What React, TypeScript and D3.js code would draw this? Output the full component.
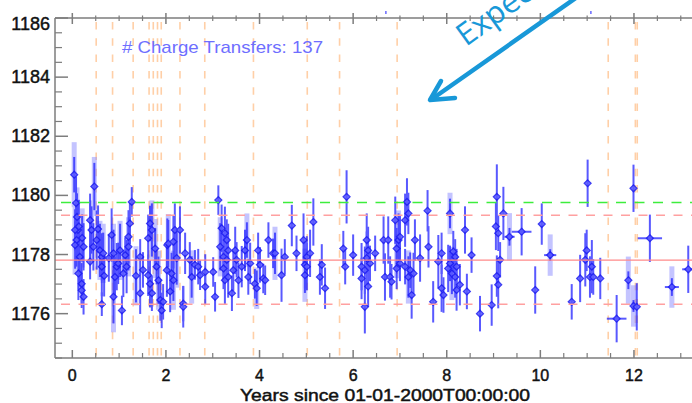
import React from "react";
import * as d3 from "d3";

const W = 692;
const H = 403;

// Axis ranges and ticks
const yearDomain = [-0.37, 13.24];
const valueDomain = [1174.5, 1186];
const yTickValues = [1176, 1178, 1180, 1182, 1184, 1186];
const xTickValues = [0, 2, 4, 6, 8, 10, 12];

// Epochs of charge transfers (years since 2000-01-01)
const transferYears = [0.51, 0.86, 1.3, 1.64, 1.73, 1.82, 1.9, 2.3, 2.83, 3.87, 5.02, 5.71, 6.94, 11.45, 12.03, 12.07];

// Reference levels
const expectedLevel = 1179.76;
const meanLevel = 1177.81;
const bandUpper = 1179.33;
const bandLower = 1176.32;

// Off-scale points flagged along the upper edge
const offscaleYears = [6.7, 11.08];

// [year, value, statistical error, systematic error, time half-width]
const measurements: number[][] = [
  [0.04, 1180.7, 0.6, 1.1, 0], [0.08, 1179.74, 0.9, 0, 0], [0.10, 1179.27, 0.8, 1.0, 0], [0.12, 1178.83, 1.0, 0, 0],
  [0.06, 1178.83, 0.7, 1.0, 0], [0.09, 1178.49, 0.9, 0, 0], [0.06, 1178.32, 0.8, 1.0, 0], [0.24, 1178.26, 0.8, 0, 0],
  [0.16, 1177.92, 1.0, 1.1, 0], [0.13, 1177.36, 0.9, 0, 0], [0.20, 1177.01, 0.7, 0, 0], [0.24, 1176.57, 0.6, 0, 0],
  [0.20, 1176.79, 0.6, 0, 0], [0.14, 1178.95, 0.9, 0, 0], [0.21, 1178.56, 0.8, 1.0, 0],
  [0.47, 1180.3, 0.8, 1.0, 0], [0.38, 1179.16, 0.9, 0, 0], [0.41, 1178.83, 0.8, 1.0, 0], [0.52, 1178.49, 1.0, 0, 0],
  [0.59, 1178.14, 0.9, 1.0, 0], [0.63, 1177.92, 0.8, 0, 0], [0.63, 1177.59, 1.0, 0, 0], [0.38, 1177.76, 0.6, 0, 0],
  [0.63, 1176.32, 0.4, 0, 0], [0.45, 1178.26, 0.8, 0, 0], [0.66, 1178.04, 0.7, 1.0, 0], [0.55, 1178.86, 0.8, 0, 0],
  [0.68, 1177.28, 0.7, 0, 0],
  [0.84, 1178.66, 0.9, 0, 0], [0.88, 1178.04, 0.8, 1.0, 0], [0.91, 1177.24, 0.7, 0, 0], [0.88, 1176.57, 0.9, 1.2, 0],
  [0.95, 1177.59, 0.8, 0, 0], [1.02, 1178.14, 0.9, 1.0, 0], [0.98, 1177.7, 0.7, 0, 0], [1.06, 1176.11, 0.5, 0, 0],
  [1.09, 1177.36, 0.8, 0, 0], [0.78, 1177.88, 0.8, 0, 0], [1.13, 1177.98, 0.6, 0, 0],
  [1.20, 1178.6, 0.9, 0, 0], [1.27, 1179.78, 0.5, 0, 0], [1.23, 1179.05, 0.7, 0, 0], [1.20, 1178.26, 0.8, 1.0, 0],
  [1.16, 1177.59, 0.9, 0, 0], [1.45, 1177.92, 0.6, 0, 0], [1.45, 1176.69, 0.7, 0, 0], [1.36, 1177.28, 0.9, 1.0, 0],
  [1.51, 1177.48, 0.6, 0, 0],
  [1.66, 1179.05, 0.6, 0, 0], [1.70, 1178.83, 0.9, 1.0, 0], [1.62, 1178.55, 0.8, 0, 0], [1.77, 1178.2, 0.7, 1.0, 0],
  [1.62, 1177.3, 0.7, 0, 0], [1.66, 1177.01, 0.8, 0, 0], [1.70, 1176.69, 0.6, 0, 0], [1.80, 1177.59, 0.6, 0, 0],
  [1.84, 1177.13, 0.8, 1.0, 0], [1.91, 1176.11, 0.6, 0, 0], [1.88, 1176.46, 0.7, 0, 0], [2.03, 1178.32, 0.9, 0, 0],
  [1.94, 1176.4, 0.6, 0, 0], [2.05, 1178.37, 0.8, 1.0, 0], [2.02, 1177.47, 0.9, 0, 0], [2.12, 1177.36, 0.7, 0, 0],
  [2.09, 1176.75, 0.7, 0, 0], [2.16, 1178.43, 0.9, 0, 0], [2.19, 1178.83, 0.9, 0, 0], [2.30, 1178.83, 0.8, 0, 0],
  [2.23, 1177.88, 0.9, 1.0, 0], [2.16, 1177.13, 0.7, 1.0, 0], [2.37, 1176.34, 0.6, 0, 0], [2.37, 1176.23, 0.7, 0, 0],
  [2.41, 1178.04, 0.7, 0, 0], [2.51, 1177.82, 0.6, 0, 0], [2.55, 1177.24, 0.7, 0.9, 0], [2.62, 1177.65, 0.5, 0, 0],
  [2.69, 1177.59, 0.6, 0, 0], [2.73, 1177.3, 0.5, 0, 0], [2.84, 1177.41, 0.6, 0, 0], [2.84, 1176.91, 0.6, 0, 0],
  [3.01, 1177.41, 0.5, 0, 0], [3.05, 1176.57, 0.5, 0, 0],
  [3.12, 1179.84, 0.5, 0, 0], [3.19, 1178.89, 0.8, 0, 0], [3.16, 1178.26, 0.8, 1.0, 0], [3.26, 1178.72, 0.9, 0, 0],
  [3.30, 1178.49, 0.7, 0, 0], [3.33, 1178.14, 0.9, 0, 0], [3.23, 1177.92, 0.8, 0, 0], [3.30, 1177.82, 0.7, 0, 0],
  [3.23, 1177.53, 0.7, 0, 0], [3.26, 1177.13, 0.8, 0, 0], [3.33, 1177.24, 0.7, 0, 0], [3.41, 1176.69, 0.6, 0, 0],
  [3.44, 1177.47, 0.7, 0, 0], [3.48, 1178.14, 0.8, 0, 0], [3.51, 1177.82, 0.6, 0, 0], [3.55, 1177.13, 0.6, 0, 0],
  [3.62, 1177.59, 0.7, 0, 0], [3.73, 1178.49, 0.6, 0.9, 0], [3.69, 1178.14, 0.7, 0, 0], [3.76, 1177.24, 0.6, 0, 0],
  [3.80, 1177.7, 0.7, 0, 0], [3.90, 1177.01, 0.5, 0, 0], [3.94, 1176.86, 0.6, 0.7, 0], [3.97, 1178.14, 0.6, 0, 0],
  [4.01, 1177.65, 0.6, 0, 0], [4.08, 1177.19, 0.5, 0, 0], [4.12, 1177.13, 0.5, 0, 0], [4.19, 1178.49, 0.6, 0, 0],
  [4.29, 1178.04, 0.5, 0, 0],
  [4.33, 1178.04, 0.7, 0.9, 0], [4.47, 1177.3, 0.9, 0, 0], [4.54, 1177.92, 0.6, 0, 0], [4.69, 1178.98, 0.7, 0, 0],
  [4.79, 1178.04, 0.6, 0, 0], [4.94, 1178.49, 0.9, 0, 0], [4.97, 1177.65, 0.8, 0, 0], [5.01, 1177.92, 0.7, 0, 0],
  [4.97, 1177.3, 0.6, 0.9, 0], [5.01, 1177.59, 0.8, 0, 0], [5.08, 1178.04, 0.8, 0, 0], [5.15, 1179.1, 0.8, 0, 0],
  [5.29, 1177.24, 0.6, 0, 0], [5.33, 1177.65, 0.7, 0, 0], [5.40, 1176.86, 0.7, 0, 0],
  [5.79, 1178.2, 0.6, 0, 0], [5.86, 1179.95, 0.9, 0, 0], [5.83, 1177.59, 0.6, 0, 0], [6.00, 1177.98, 0.7, 0, 0],
  [6.18, 1177.59, 0.8, 0, 0], [6.18, 1177.19, 0.7, 0, 0], [6.25, 1176.23, 0.9, 0, 0], [6.29, 1178.49, 0.9, 0, 0],
  [6.32, 1178.14, 0.8, 0, 0], [6.29, 1177.88, 0.9, 0, 0], [6.25, 1177.47, 0.8, 0, 0], [6.32, 1176.92, 0.7, 0, 0],
  [6.36, 1177.7, 0.6, 0, 0], [6.47, 1178.04, 0.6, 0, 0],
  [6.65, 1178.49, 0.8, 0, 0], [6.75, 1178.49, 0.8, 0, 0], [6.68, 1177.24, 0.8, 0, 0], [6.79, 1177.24, 0.7, 0, 0],
  [6.82, 1177.08, 0.6, 0, 0], [6.90, 1179.16, 0.8, 0, 0], [6.93, 1178.2, 0.7, 1.0, 0], [6.97, 1178.49, 0.9, 1.0, 0],
  [7.00, 1178.6, 0.7, 0, 0], [6.93, 1177.53, 0.7, 0, 0], [7.00, 1177.7, 0.6, 0, 0], [7.11, 1179.16, 0.9, 0, 0],
  [7.15, 1179.78, 0.8, 0, 0], [7.18, 1179.39, 0.7, 0, 0], [7.11, 1177.59, 0.6, 0, 0], [7.18, 1177.24, 0.7, 0.9, 0],
  [7.22, 1177.47, 0.6, 0, 0], [7.25, 1176.63, 0.8, 0, 0], [7.29, 1177.36, 0.7, 0, 0], [7.32, 1178.49, 0.7, 0, 0],
  [7.43, 1177.88, 0.8, 0, 0], [7.59, 1179.48, 0.7, 0, 0], [7.61, 1178.26, 0.7, 0, 0], [7.71, 1176.4, 0.7, 0, 0],
  [7.82, 1177.76, 0.9, 0, 0], [7.89, 1178.04, 0.7, 0, 0], [7.89, 1176.86, 0.8, 0, 0], [7.93, 1176.63, 0.6, 0, 0],
  [8.03, 1177.53, 0.8, 0, 0], [8.07, 1179.39, 0.5, 0.7, 0], [8.07, 1177.7, 0.6, 0, 0], [8.11, 1177.36, 0.7, 0.9, 0],
  [8.14, 1178.1, 0.7, 0, 0], [8.18, 1177.92, 0.6, 0, 0], [8.18, 1177.24, 0.7, 0, 0], [8.21, 1177.59, 0.6, 0, 0],
  [8.21, 1176.8, 0.7, 0, 0], [8.28, 1176.98, 0.7, 0, 0], [8.39, 1178.83, 0.8, 0, 0], [8.43, 1176.75, 0.6, 0, 0],
  [8.53, 1177.98, 0.6, 0, 0], [8.71, 1176.0, 0.6, 0, 0],
  [8.96, 1176.29, 0.7, 0, 0], [9.07, 1179.95, 1.1, 0, 0], [9.05, 1178.95, 0.8, 0, 0], [9.10, 1178.72, 0.6, 0, 0],
  [9.21, 1179.39, 0.9, 0, 0], [9.07, 1177.27, 0.7, 0, 0], [9.10, 1176.98, 0.8, 0, 0], [9.14, 1177.82, 0.6, 0, 0],
  [9.34, 1178.6, 0.3, 0.8, 0.11], [9.60, 1178.77, 0.8, 0, 0.21], [9.89, 1176.8, 0.8, 0, 0], [10.03, 1179.03, 0.7, 0, 0],
  [10.21, 1177.98, 0.2, 0.7, 0.13], [10.67, 1176.4, 0.6, 0, 0], [10.85, 1177.19, 0.8, 0, 0], [10.96, 1177.82, 0.9, 0, 0],
  [10.99, 1178.14, 0.7, 0, 0], [11.01, 1180.41, 0.8, 0, 0], [11.10, 1177.59, 0.9, 0, 0], [11.06, 1177.24, 0.7, 0, 0],
  [11.13, 1177.24, 0.6, 0, 0], [11.28, 1177.19, 0.7, 0, 0], [11.63, 1175.83, 0.8, 0, 0.21], [11.88, 1177.13, 0.3, 0.8, 0],
  [11.99, 1180.24, 0.8, 0, 0], [11.99, 1176.26, 0.2, 0.7, 0], [12.06, 1176.23, 0.8, 0, 0], [12.34, 1178.55, 0.8, 0, 0.26],
  [12.81, 1176.9, 0.3, 0.7, 0.15], [13.16, 1177.5, 0.8, 0, 0.13],
];

const x = d3.scaleLinear().domain(yearDomain).range([55, W]);
const y = d3.scaleLinear().domain(valueDomain).range([358, 18]);

const xMinor = d3.range(0, 13.01, 0.5);
const yMinor = d3.range(1174.5, 1186.01, 0.5);

const diamond = d3.symbol(d3.symbolDiamond2, 30)() as string;

const axisColor = "#7d7d7d";
const labelFont = "'Liberation Sans', Arial, sans-serif";

export default function App() {
  const top = y(valueDomain[1]);
  const bottom = y(valueDomain[0]);
  const left = x(yearDomain[0]);
  const right = x(yearDomain[1]);

  return (
    <svg
      width={W}
      height={H}
      style={{ position: "absolute", left: 0, top: 0, background: "#fff" }}
    >
      <defs>
        <clipPath id="plot-area">
          <rect x={left} y={top} width={right - left} height={bottom - top} />
        </clipPath>
      </defs>

      {/* charge transfer epochs */}
      <g stroke="#ffc08a" strokeWidth={1.6} strokeDasharray="7.5,8.8" strokeDashoffset={-4} opacity={0.75}>
        {transferYears.map((t, i) => (
          <line key={i} x1={x(t)} x2={x(t)} y1={top} y2={bottom} />
        ))}
      </g>

      <g clipPath="url(#plot-area)">
        {/* systematic error bars */}
        <g stroke="#8a8aff" strokeWidth={5} opacity={0.5}>
          {measurements
            .filter((m) => m[3] > 0)
            .map((m, i) => (
              <line key={i} x1={x(m[0])} x2={x(m[0])} y1={y(m[1] - m[3])} y2={y(m[1] + m[3])} />
            ))}
        </g>
        {/* statistical error bars */}
        <g stroke="#2222ff" strokeWidth={2} opacity={0.75}>
          {measurements.map((m, i) => (
            <line key={i} x1={x(m[0])} x2={x(m[0])} y1={y(m[1] - m[2])} y2={y(m[1] + m[2])} />
          ))}
          {measurements
            .filter((m) => m[4] > 0)
            .map((m, i) => (
              <line key={"h" + i} x1={x(m[0] - m[4])} x2={x(m[0] + m[4])} y1={y(m[1])} y2={y(m[1])} />
            ))}
        </g>
        {/* measurement markers */}
        <g fill="#5a5aff" stroke="#1c1cf0" strokeWidth={1.3} opacity={0.85}>
          {measurements.map((m, i) => (
            <path key={i} d={diamond} transform={`translate(${x(m[0])},${y(m[1])})`} />
          ))}
        </g>

        {/* reference levels */}
        <line x1={left} x2={right} y1={y(meanLevel)} y2={y(meanLevel)} stroke="#ff8a8a" strokeWidth={1.3} />
        <g stroke="#ffa0a0" strokeWidth={1.6} strokeDasharray="9,8.5">
          <line x1={left + 6} x2={right} y1={y(bandUpper)} y2={y(bandUpper)} />
          <line x1={left + 6} x2={right} y1={y(bandLower)} y2={y(bandLower)} />
        </g>
        <line
          x1={left + 6}
          x2={right}
          y1={y(expectedLevel)}
          y2={y(expectedLevel)}
          stroke="#3ded3d"
          strokeWidth={1.6}
          strokeDasharray="10,8.5"
        />
      </g>

      {/* off-scale markers above the frame */}
      <g stroke="#5050ff" strokeWidth={1.3}>
        {offscaleYears.map((t, i) => (
          <line key={i} x1={x(t)} x2={x(t)} y1={top - 7} y2={top - 4} />
        ))}
      </g>

      <text
        x={122}
        y={53}
        fill="#6e6eff"
        fontFamily={labelFont}
        fontSize={17}
        textLength={201}
        lengthAdjust="spacingAndGlyphs"
      >
        # Charge Transfers: 137
      </text>

      {/* axes */}
      <g stroke={axisColor} strokeWidth={1.5} fill="none">
        <line x1={left} x2={right} y1={top} y2={top} />
        <line x1={left} x2={right} y1={bottom} y2={bottom} />
        <line x1={left} x2={left} y1={top} y2={bottom} />
        {xTickValues.map((t) => (
          <g key={t}>
            <line x1={x(t)} x2={x(t)} y1={bottom} y2={bottom - 8} />
            <line x1={x(t)} x2={x(t)} y1={top - 5} y2={top + 6} />
          </g>
        ))}
        {xMinor
          .filter((t) => !xTickValues.includes(t))
          .map((t) => (
            <g key={t}>
              <line x1={x(t)} x2={x(t)} y1={bottom} y2={bottom - 5} strokeWidth={1.2} />
              <line x1={x(t)} x2={x(t)} y1={top - 2.5} y2={top + 3} strokeWidth={1.2} />
            </g>
          ))}
        {yTickValues.map((v) => (
          <line key={v} x1={left} x2={left + 13} y1={y(v)} y2={y(v)} />
        ))}
        {yMinor
          .filter((v) => !yTickValues.includes(v))
          .map((v) => (
            <line key={v} x1={left} x2={left + 7} y1={y(v)} y2={y(v)} strokeWidth={1.2} />
          ))}
      </g>

      <g fontFamily={labelFont} fontSize={18} fill="#111" stroke="#111" strokeWidth={0.45}>
        {yTickValues.map((v) => (
          <text key={v} x={50} y={Math.max(y(v), 24)} textAnchor="end" dominantBaseline="central">
            {v}
          </text>
        ))}
        {xTickValues.map((t) => (
          <text key={t} x={x(t)} y={381} textAnchor="middle" fontSize={16}>
            {t}
          </text>
        ))}
        <text x={240} y={401} fontSize={16} textLength={290} lengthAdjust="spacingAndGlyphs">
          Years since 01-01-2000T00:00:00
        </text>
      </g>

      {/* annotation */}
      <g stroke="#1898d8" strokeWidth={4.5} strokeLinecap="round" strokeLinejoin="round" fill="none">
        <line x1={580} y1={-5} x2={432} y2={99} />
        <polyline points="441,81 430,100 455,98" />
      </g>
      <text
        transform="translate(466,47) rotate(-36)"
        fill="#1898d8"
        fontFamily="'Open Sans', 'Liberation Sans', sans-serif"
        fontSize={31}
      >
        Expected
      </text>
    </svg>
  );
}
